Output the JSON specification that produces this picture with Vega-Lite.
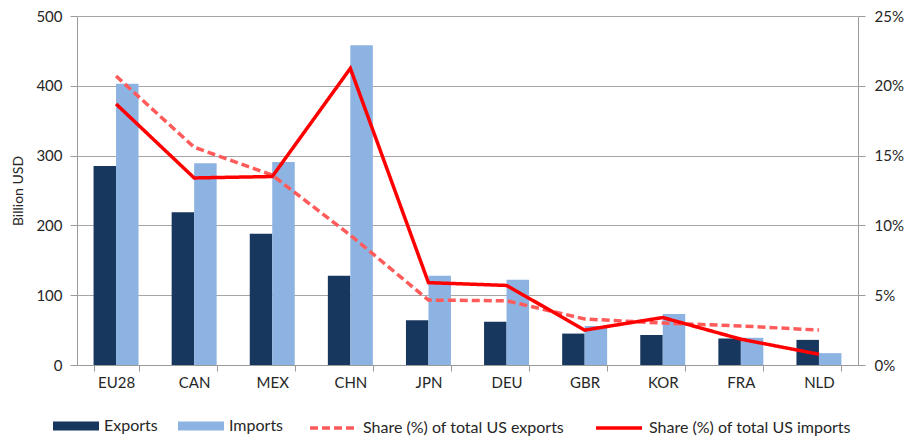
{
  "$schema": "https://vega.github.io/schema/vega-lite/v6.json",
  "width": 781,
  "height": 349,
  "autosize": {"type": "none"},
  "padding": {"left": 77, "top": 16, "right": 51, "bottom": 77},
  "background": "white",
  "config": {
    "view": {"stroke": null},
    "font": "Lato",
    "axis": {"labelFont": "Lato", "titleFont": "Lato", "labelColor": "#262626", "titleColor": "#262626", "labelFontSize": 15, "titleFontSize": 14, "titleFontWeight": "normal", "domainColor": "#9a9a9a", "tickColor": "#9a9a9a"},
    "legend": {"labelFont": "Lato", "labelFontSize": 16, "labelColor": "#262626", "labelLimit": 0}
  },
  "datasets": {
    "trade": [
      {"country": "EU28", "flow": "Exports", "value": 285},
      {"country": "EU28", "flow": "Imports", "value": 403},
      {"country": "CAN", "flow": "Exports", "value": 219},
      {"country": "CAN", "flow": "Imports", "value": 289},
      {"country": "MEX", "flow": "Exports", "value": 188},
      {"country": "MEX", "flow": "Imports", "value": 291},
      {"country": "CHN", "flow": "Exports", "value": 128},
      {"country": "CHN", "flow": "Imports", "value": 458},
      {"country": "JPN", "flow": "Exports", "value": 64},
      {"country": "JPN", "flow": "Imports", "value": 128},
      {"country": "DEU", "flow": "Exports", "value": 62},
      {"country": "DEU", "flow": "Imports", "value": 122},
      {"country": "GBR", "flow": "Exports", "value": 45},
      {"country": "GBR", "flow": "Imports", "value": 56},
      {"country": "KOR", "flow": "Exports", "value": 43},
      {"country": "KOR", "flow": "Imports", "value": 73},
      {"country": "FRA", "flow": "Exports", "value": 38},
      {"country": "FRA", "flow": "Imports", "value": 39},
      {"country": "NLD", "flow": "Exports", "value": 36},
      {"country": "NLD", "flow": "Imports", "value": 17}
    ],
    "share": [
      {"country": "EU28", "series": "Share (%) of total US exports", "share": 0.207},
      {"country": "CAN", "series": "Share (%) of total US exports", "share": 0.156},
      {"country": "MEX", "series": "Share (%) of total US exports", "share": 0.136},
      {"country": "CHN", "series": "Share (%) of total US exports", "share": 0.093},
      {"country": "JPN", "series": "Share (%) of total US exports", "share": 0.0465},
      {"country": "DEU", "series": "Share (%) of total US exports", "share": 0.046},
      {"country": "GBR", "series": "Share (%) of total US exports", "share": 0.033},
      {"country": "KOR", "series": "Share (%) of total US exports", "share": 0.030},
      {"country": "FRA", "series": "Share (%) of total US exports", "share": 0.028},
      {"country": "NLD", "series": "Share (%) of total US exports", "share": 0.025},
      {"country": "EU28", "series": "Share (%) of total US imports", "share": 0.187},
      {"country": "CAN", "series": "Share (%) of total US imports", "share": 0.134},
      {"country": "MEX", "series": "Share (%) of total US imports", "share": 0.135},
      {"country": "CHN", "series": "Share (%) of total US imports", "share": 0.2125},
      {"country": "JPN", "series": "Share (%) of total US imports", "share": 0.059},
      {"country": "DEU", "series": "Share (%) of total US imports", "share": 0.057},
      {"country": "GBR", "series": "Share (%) of total US imports", "share": 0.025},
      {"country": "KOR", "series": "Share (%) of total US imports", "share": 0.034},
      {"country": "FRA", "series": "Share (%) of total US imports", "share": 0.0185},
      {"country": "NLD", "series": "Share (%) of total US imports", "share": 0.0077}
    ]
  },
  "layer": [
    {
      "data": {"name": "trade"},
      "mark": {"type": "bar"},
      "encoding": {
        "x": {
          "field": "country", "type": "nominal",
          "sort": ["EU28", "CAN", "MEX", "CHN", "JPN", "DEU", "GBR", "KOR", "FRA", "NLD"],
          "scale": {"paddingInner": 0.424, "paddingOuter": 0.212},
          "axis": {"title": null, "labelAngle": 0, "tickBand": "extent", "tickSize": 6, "labelPadding": 4, "grid": false}
        },
        "xOffset": {"field": "flow", "sort": ["Exports", "Imports"]},
        "y": {
          "field": "value", "type": "quantitative",
          "scale": {"domain": [0, 500]},
          "axis": {"orient": "left", "title": "Billion USD", "values": [0, 100, 200, 300, 400, 500], "grid": true, "gridColor": "#a6a6a6", "tickSize": 7, "labelPadding": 8, "titlePadding": 10}
        },
        "color": {
          "field": "flow", "type": "nominal",
          "scale": {"domain": ["Exports", "Imports"], "range": ["#17375E", "#8DB3E2"]},
          "legend": {"title": null, "orient": "none", "legendX": -24, "legendY": 387, "direction": "horizontal", "symbolType": "M-1,-0.196H1V0.196H-1Z", "symbolSize": 2116, "symbolStrokeWidth": 0, "labelOffset": 5, "columnPadding": 20}
        }
      }
    },
    {
      "data": {"name": "share"},
      "mark": {"type": "line", "strokeWidth": 3.5},
      "encoding": {
        "x": {"field": "country", "type": "nominal", "sort": ["EU28", "CAN", "MEX", "CHN", "JPN", "DEU", "GBR", "KOR", "FRA", "NLD"]},
        "y": {
          "field": "share", "type": "quantitative",
          "scale": {"domain": [0, 0.25]},
          "axis": {"orient": "right", "title": null, "format": ".0%", "values": [0, 0.05, 0.1, 0.15, 0.2, 0.25], "grid": false, "tickSize": 7, "labelPadding": 9}
        },
        "color": {
          "field": "series", "type": "nominal",
          "scale": {"domain": ["Share (%) of total US exports", "Share (%) of total US imports"], "range": ["#FF5B5B", "#FF0000"]},
          "legend": {"title": null, "orient": "none", "legendX": 231, "legendY": 387, "direction": "horizontal", "symbolType": "stroke", "symbolSize": 2116, "symbolStrokeWidth": 3.5, "labelOffset": 5, "columnPadding": 24}
        },
        "strokeDash": {
          "field": "series", "type": "nominal",
          "scale": {"domain": ["Share (%) of total US exports", "Share (%) of total US imports"], "range": [[8, 4], [1, 0]]},
          "legend": {"title": null, "orient": "none", "legendX": 231, "legendY": 387, "direction": "horizontal", "symbolType": "stroke", "symbolSize": 2116, "symbolStrokeWidth": 3.5, "labelOffset": 5, "columnPadding": 24}
        }
      }
    }
  ],
  "resolve": {"scale": {"y": "independent", "color": "independent", "strokeDash": "independent"}}
}
